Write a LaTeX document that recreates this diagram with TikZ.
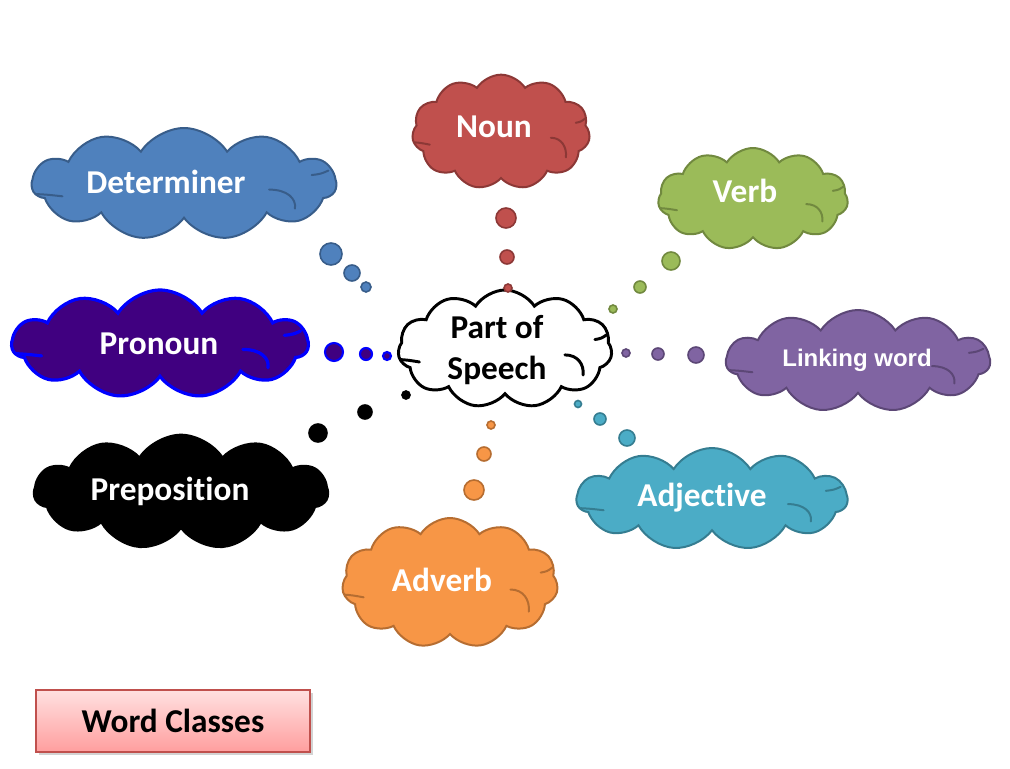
\documentclass[tikz,border=0pt]{standalone}
\usepackage{fontspec}
\setmainfont{Carlito}[Ligatures={NoCommon}]
\newfontfamily\arialfont{Liberation Sans}
\usetikzlibrary{shapes.symbols,shadows}

\definecolor{nounfill}{HTML}{C0504D}
\definecolor{nounline}{HTML}{8C3836}
\definecolor{detfill}{HTML}{4F81BD}
\definecolor{detline}{HTML}{385D8A}
\definecolor{verbfill}{HTML}{9BBB59}
\definecolor{verbline}{HTML}{71893F}
\definecolor{pronfill}{HTML}{400080}
\definecolor{pronline}{HTML}{0000FF}
\definecolor{linkfill}{HTML}{8064A2}
\definecolor{linkline}{HTML}{5C4776}
\definecolor{adjfill}{HTML}{4BACC6}
\definecolor{adjline}{HTML}{357D91}
\definecolor{advfill}{HTML}{F79646}
\definecolor{advline}{HTML}{B66D31}

% inner strokes of a cloud: #1 node, #2 width, #3 height (px), #4 style
\newcommand{\cloudlines}[4]{%
  \begin{scope}[shift={(#1.center)}, xscale=#2, yscale=#3]
    \draw[line cap=round, #4] (-0.485,0.09) .. controls (-0.45,0.095) .. (-0.40,0.11);
    \draw[line cap=round, #4] (0.42,-0.08) .. controls (0.45,-0.09) .. (0.475,-0.12);
    \draw[line cap=round, #4] (0.28,0.05) .. controls (0.34,0.05) and (0.37,0.13) .. (0.365,0.22);
  \end{scope}}

\begin{document}
\begin{tikzpicture}[x=0.75pt, y=-0.75pt,
  wordcloud/.style={cloud, cloud puffs=11, cloud puff arc=115, aspect=1.6,
    cloud ignores aspect, inner sep=0pt, line width=1.5pt},
  wordlabel/.style={font=\fontsize{25}{31}\selectfont\bfseries, text=white, align=center},
  bubble/.style={line width=1.2pt}]
  \useasboundingbox (0,0) rectangle (1010,768);

  % Centre cloud
  \node[wordcloud, fill=white, draw=black, line width=2.2pt,
    minimum width=160.5pt, minimum height=88.5pt] (speech) at (505,349) {};
  \cloudlines{speech}{214}{118}{black, line width=2.2pt}
  \node[wordlabel, text=black] (speech-t) at (497,350) {Part of\\Speech};

  % Noun
  \node[wordcloud, fill=nounfill, draw=nounline, minimum width=133.5pt, minimum height=86pt] (noun) at (501,132) {};
  \cloudlines{noun}{178}{115}{nounline, line width=1.5pt}
  \node[wordlabel] (noun-t) at (494,127) {Noun};
  \foreach \x/\y/\r in {506/218/10, 507/257/7, 508/288/4}
    \draw[bubble, fill=nounfill, draw=nounline] (\x,\y) circle (\r);

  % Determiner
  \node[wordcloud, fill=detfill, draw=detline, minimum width=228pt, minimum height=84pt] (det) at (184,184) {};
  \cloudlines{det}{304}{112}{detline, line width=1.5pt}
  \node[wordlabel] (det-t) at (166,182) {Determiner};
  \foreach \x/\y/\r in {331/254/11, 352/273/8, 366/287/5}
    \draw[bubble, fill=detfill, draw=detline] (\x,\y) circle (\r);

  % Verb
  \node[wordcloud, fill=verbfill, draw=verbline, minimum width=142.5pt, minimum height=76.5pt] (verb) at (753,199) {};
  \cloudlines{verb}{190}{102}{verbline, line width=1.5pt}
  \node[wordlabel] (verb-t) at (745,191) {Verb};
  \foreach \x/\y/\r in {671/261/9, 640/287/6, 613/309/4}
    \draw[bubble, fill=verbfill, draw=verbline] (\x,\y) circle (\r);

  % Pronoun
  \node[wordcloud, fill=pronfill, draw=pronline, line width=2.4pt,
    minimum width=222pt, minimum height=81pt] (pron) at (160,344) {};
  \cloudlines{pron}{296}{108}{pronline, line width=2.4pt}
  \node[wordlabel] (pron-t) at (159,344) {Pronoun};
  \foreach \x/\y/\r in {334/352/9, 366/354/6, 387/356/4}
    \draw[bubble, fill=pronfill, draw=pronline, line width=1.6pt] (\x,\y) circle (\r);

  % Linking word
  \node[wordcloud, fill=linkfill, draw=linkline, minimum width=198pt, minimum height=76.5pt] (link) at (858,361) {};
  \cloudlines{link}{264}{102}{linkline, line width=1.5pt}
  \node[wordlabel, font=\arialfont\fontsize{18}{18}\selectfont\bfseries] (link-t) at (857,360) {Linking word};
  \foreach \x/\y/\r in {696/355/8, 658/354/6, 626/353/4}
    \draw[bubble, fill=linkfill, draw=linkline] (\x,\y) circle (\r);

  % Preposition
  \node[wordcloud, fill=black, draw=black, minimum width=220.5pt, minimum height=86pt] (prep) at (181,492) {};
  \node[wordlabel] (prep-t) at (170,491) {Preposition};
  \foreach \x/\y/\r in {318/433/9, 365/412/7, 406/395/4}
    \draw[bubble, fill=black, draw=black] (\x,\y) circle (\r);

  % Adjective
  \node[wordcloud, fill=adjfill, draw=adjline, minimum width=203pt, minimum height=76.5pt] (adj) at (712,499) {};
  \cloudlines{adj}{271}{102}{adjline, line width=1.5pt}
  \node[wordlabel] (adj-t) at (702,498) {Adjective};
  \foreach \x/\y/\r in {627/438/8, 600/419/6, 578/404/3.5}
    \draw[bubble, fill=adjfill, draw=adjline] (\x,\y) circle (\r);

  % Adverb
  \node[wordcloud, fill=advfill, draw=advline, minimum width=162pt, minimum height=97.5pt] (adv) at (450,583) {};
  \cloudlines{adv}{216}{130}{advline, line width=1.5pt}
  \node[wordlabel] (adv-t) at (442,580) {Adverb};
  \foreach \x/\y/\r in {474/490/10, 484/454/7, 491/425/4}
    \draw[bubble, fill=advfill, draw=advline] (\x,\y) circle (\r);

  % Title box
  \node[draw=nounfill, line width=0.8pt, top color=red!12, bottom color=red!38,
    drop shadow={opacity=0.35, shadow xshift=2pt, shadow yshift=-2pt},
    minimum width=205.5pt, minimum height=46.5pt,
    font=\fontsize{25}{25}\selectfont\bfseries] (title) at (173,721) {Word Classes};
\end{tikzpicture}
\end{document}
